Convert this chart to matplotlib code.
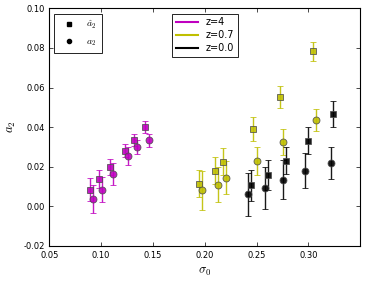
import matplotlib
matplotlib.use("Agg")
import matplotlib.pyplot as plt
from matplotlib.lines import Line2D
import numpy as np

# sigma_0 and a_2 values
# z=4 (magenta)
sq_x_z4 = [0.0889, 0.0979, 0.1088, 0.1230, 0.1320, 0.1426]
sq_y_z4 = [0.0085, 0.0138, 0.0200, 0.0280, 0.0333, 0.0400]
sq_e_z4 = [0.0057, 0.0047, 0.0040, 0.0033, 0.0030, 0.0030]
ci_x_z4 = [0.0921, 0.1011, 0.1117, 0.1259, 0.1349, 0.1458]
ci_y_z4 = [0.0038, 0.0085, 0.0165, 0.0255, 0.0300, 0.0334]
ci_e_z4 = [0.0072, 0.0065, 0.0055, 0.0045, 0.0037, 0.0032]
# z=0.7 (yellow)
sq_x_z07 = [0.1947, 0.2095, 0.2175, 0.2468, 0.2725, 0.3043]
sq_y_z07 = [0.0115, 0.0181, 0.0225, 0.0391, 0.0551, 0.0784]
sq_e_z07 = [0.0070, 0.0068, 0.0068, 0.0060, 0.0055, 0.0048]
ci_x_z07 = [0.1972, 0.2124, 0.2207, 0.2500, 0.2754, 0.3072]
ci_y_z07 = [0.0081, 0.0110, 0.0145, 0.0228, 0.0324, 0.0437]
ci_e_z07 = [0.0097, 0.0087, 0.0082, 0.0072, 0.0065, 0.0055]
# z=0.0 (black)
sq_x_z0 = [0.2448, 0.2606, 0.2786, 0.2998, 0.3239]
sq_y_z0 = [0.0106, 0.0160, 0.0231, 0.0331, 0.0466]
sq_e_z0 = [0.0078, 0.0075, 0.0070, 0.0068, 0.0064]
ci_x_z0 = [0.2420, 0.2580, 0.2757, 0.2970, 0.3214]
ci_y_z0 = [0.0060, 0.0093, 0.0135, 0.0181, 0.0218]
ci_e_z0 = [0.0110, 0.0107, 0.0100, 0.0090, 0.0080]

plt.rcParams['font.size'] = 6
plt.rcParams['mathtext.fontset'] = 'cm'

fig = plt.figure(figsize=(3.74, 2.81), dpi=100)
ax = fig.add_axes([0.132, 0.1246, 0.831, 0.846])

groups = [
    ('m', sq_x_z4, sq_y_z4, sq_e_z4, ci_x_z4, ci_y_z4, ci_e_z4),
    ('y', sq_x_z07, sq_y_z07, sq_e_z07, ci_x_z07, ci_y_z07, ci_e_z07),
    ('k', sq_x_z0, sq_y_z0, sq_e_z0, ci_x_z0, ci_y_z0, ci_e_z0),
]
for c, sx, sy, se, cx, cy, ce in groups:
    ax.errorbar(sx, sy, yerr=se, fmt='s', color=c, ms=5, mec='0.3', mew=0.6,
                ecolor=c, elinewidth=1, capsize=2, capthick=1.5, alpha=0.9)
    ax.errorbar(cx, cy, yerr=ce, fmt='o', color=c, ms=5, mec='0.3', mew=0.6,
                ecolor=c, elinewidth=1, capsize=2, capthick=1.5, alpha=0.9)

ax.set_xlim(0.05, 0.35)
ax.set_ylim(-0.02, 0.10)
ax.set_xticks([0.05, 0.10, 0.15, 0.20, 0.25, 0.30])
ax.set_yticks(np.arange(-0.02, 0.101, 0.02))
ax.xaxis.set_major_formatter(matplotlib.ticker.FormatStrFormatter('%.2f'))
ax.yaxis.set_major_formatter(matplotlib.ticker.FormatStrFormatter('%.2f'))
ax.tick_params(direction='in', top=True, right=True, length=3, width=0.5, labelsize=6)
for s in ax.spines.values():
    s.set_linewidth(0.8)
ax.set_xlabel(r'$\sigma_0$', fontsize=9)
ax.set_ylabel(r'$a_2$', fontsize=9)

h1 = [Line2D([], [], ls='none', marker='s', color='k', ms=3),
      Line2D([], [], ls='none', marker='o', color='k', ms=3)]
leg1 = ax.legend(h1, [r'$\hat{a}_2$', r'$a_2$'], loc='upper left', fontsize=7,
                 fancybox=False, edgecolor='k', framealpha=1, numpoints=1,
                 handlelength=2.0, borderpad=0.5, labelspacing=0.5,
                 bbox_to_anchor=(0.0, 0.995))
leg1.get_frame().set_linewidth(0.6)
ax.add_artist(leg1)

h2 = [Line2D([], [], color='m', lw=1.5), Line2D([], [], color='y', lw=1.5),
      Line2D([], [], color='k', lw=1.5)]
leg2 = ax.legend(h2, ['z=4', 'z=0.7', 'z=0.0'], loc='upper left',
                 bbox_to_anchor=(0.38, 0.998), fontsize=7, fancybox=False,
                 edgecolor='k', framealpha=1, handlelength=2.2, borderpad=0.4,
                 labelspacing=0.3)
leg2.get_frame().set_linewidth(0.6)

fig.savefig('out.png', dpi=100, facecolor='white')
